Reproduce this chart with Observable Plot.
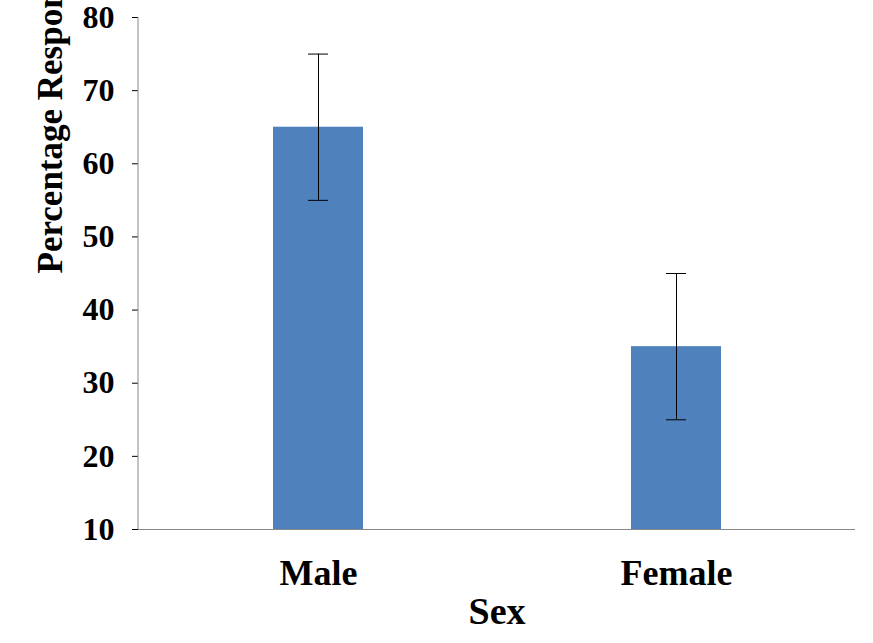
<!DOCTYPE html>
<html><head>
<script src="https://cdn.jsdelivr.net/npm/d3@7"></script>
<script src="https://cdn.jsdelivr.net/npm/@observablehq/plot@0.6"></script>
<style>body{margin:0;background:#fff}</style>
</head><body>
<div id="chart"></div>
<script>
const categories = ["Male", "Female"];
const values = [65, 35];
const errLow = [55, 25];
const errHigh = [75, 45];
const yTicks = [10, 20, 30, 40, 50, 60, 70, 80];
const data = categories.map((c, i) => ({sex: c, v: values[i], lo: errLow[i], hi: errHigh[i]}));

const chart = Plot.plot({
  width: 873, height: 643,
  marginLeft: 138, marginRight: 18, marginTop: 17, marginBottom: 114,
  style: {fontFamily: "Liberation Serif", fontWeight: "bold", fontSize: "30px", color: "#000", background: "#fff"},
  x: {type: "band", domain: categories, paddingInner: 0.75, paddingOuter: 0.375, label: null},
  y: {domain: [10, 80], label: null},
  marks: [
    Plot.rectY(data, {x: "sex", y1: 10, y2: "v", fill: "#4f81bd"}),
    Plot.ruleX(data, {x: "sex", y1: "lo", y2: "hi", stroke: "#000", strokeWidth: 1}),
    Plot.tickY(data, {x: "sex", y: "lo", insetLeft: 35, insetRight: 35, stroke: "#000"}),
    Plot.tickY(data, {x: "sex", y: "hi", insetLeft: 35, insetRight: 35, stroke: "#000"}),
    Plot.axisY({ticks: yTicks, tickSize: 6, tickPadding: 18, fontSize: 32, label: null}),
    Plot.axisX({tickSize: 0, tickPadding: 30, fontSize: 36, label: null}),
    Plot.ruleY([10], {stroke: "#888"}),
    Plot.text(["Sex"], {frameAnchor: "bottom", dy: 94, fontSize: 38, text: d => d}),
    Plot.text(["Percentage Respondents"], {frameAnchor: "left", dx: -88, rotate: -90, fontSize: 35, text: d => d})
  ]
});
const svg = d3.select(chart);
svg.append("line").attr("x1",138).attr("x2",138).attr("y1",17).attr("y2",529).attr("stroke","#888");
document.getElementById("chart").appendChild(chart);
</script>
</body></html>
